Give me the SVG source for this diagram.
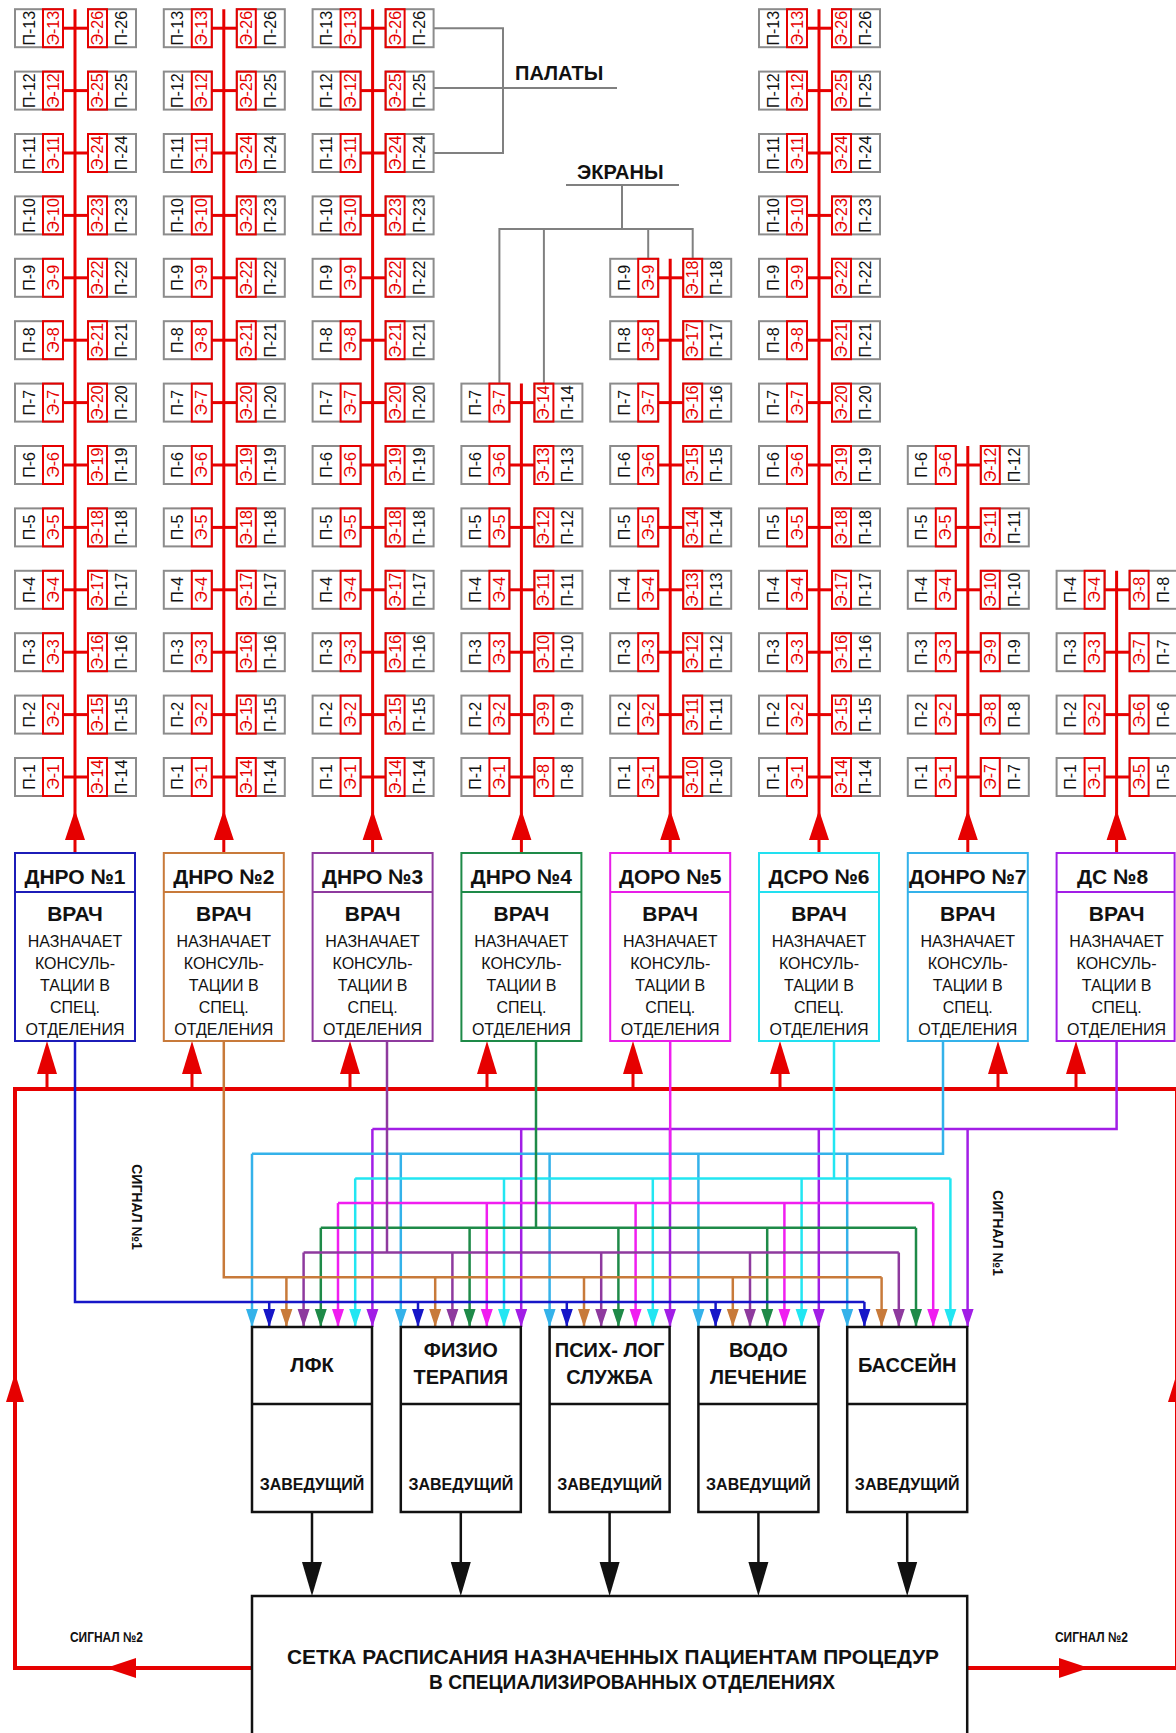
<svg xmlns="http://www.w3.org/2000/svg" width="1176" height="1733" viewBox="0 0 1176 1733">
<style>
text{font-family:"Liberation Sans",Arial,sans-serif}
.g{fill:#fff;stroke:#8c8c8c;stroke-width:2}
.r{fill:none;stroke:#e60000;stroke-width:2}
.rl{stroke:#e60000;stroke-width:3}
.p,.e{font-size:16px;text-anchor:middle;dominant-baseline:central}
.p{fill:#111}
.e{fill:#e60000}
.vl{stroke:#e60000;stroke-width:3}
.ra{fill:#e60000}
.bus{fill:none;stroke:#e60000;stroke-width:4}
.db{fill:#fff;stroke-width:2}
.dh{font-size:21px;font-weight:bold;text-anchor:middle;fill:#111}
.dv{font-size:21px;font-weight:bold;text-anchor:middle;fill:#111}
.dt{font-size:16px;text-anchor:middle;fill:#111}
.sb{fill:#fff;stroke:#111;stroke-width:2.5}
.sl{stroke:#111;stroke-width:2.5}
.sh{font-size:20px;font-weight:bold;text-anchor:middle;fill:#111}
.sz{font-size:16px;font-weight:bold;text-anchor:middle;fill:#111}
.cn{fill:none;stroke-width:2.5}
.gl{fill:none;stroke:#808080;stroke-width:2}
.lb{font-size:20px;font-weight:bold;fill:#111}
.sg{font-size:14px;font-weight:bold;fill:#111}
.bk{fill:#111}
</style>
<defs>
<g id="c"><rect class="g" x="-19" y="-60" width="38" height="48"/><rect class="g" x="-19" y="13" width="38" height="48"/><rect class="r" x="-19" y="-32" width="38" height="20"/><rect class="r" x="-19" y="13" width="38" height="19"/><line class="rl" x1="0" y1="-12" x2="0" y2="13"/></g>
<marker id="m0" markerUnits="userSpaceOnUse" markerWidth="20" markerHeight="14" refX="18" refY="7" orient="auto" viewBox="0 0 20 14"><path d="M0,1 L18,7 L0,13 z" fill="#34b2ea"/></marker>
<marker id="m1" markerUnits="userSpaceOnUse" markerWidth="20" markerHeight="14" refX="18" refY="7" orient="auto" viewBox="0 0 20 14"><path d="M0,1 L18,7 L0,13 z" fill="#1616c8"/></marker>
<marker id="m2" markerUnits="userSpaceOnUse" markerWidth="20" markerHeight="14" refX="18" refY="7" orient="auto" viewBox="0 0 20 14"><path d="M0,1 L18,7 L0,13 z" fill="#c87a3a"/></marker>
<marker id="m3" markerUnits="userSpaceOnUse" markerWidth="20" markerHeight="14" refX="18" refY="7" orient="auto" viewBox="0 0 20 14"><path d="M0,1 L18,7 L0,13 z" fill="#8e3a9e"/></marker>
<marker id="m4" markerUnits="userSpaceOnUse" markerWidth="20" markerHeight="14" refX="18" refY="7" orient="auto" viewBox="0 0 20 14"><path d="M0,1 L18,7 L0,13 z" fill="#1e8a48"/></marker>
<marker id="m5" markerUnits="userSpaceOnUse" markerWidth="20" markerHeight="14" refX="18" refY="7" orient="auto" viewBox="0 0 20 14"><path d="M0,1 L18,7 L0,13 z" fill="#f01ef0"/></marker>
<marker id="m6" markerUnits="userSpaceOnUse" markerWidth="20" markerHeight="14" refX="18" refY="7" orient="auto" viewBox="0 0 20 14"><path d="M0,1 L18,7 L0,13 z" fill="#22e6f2"/></marker>
<marker id="m7" markerUnits="userSpaceOnUse" markerWidth="20" markerHeight="14" refX="18" refY="7" orient="auto" viewBox="0 0 20 14"><path d="M0,1 L18,7 L0,13 z" fill="#a21ee6"/></marker>
</defs>
<rect width="1176" height="1733" fill="#fff"/>

<g id="connectors">
<polyline class="gl" points="433.6,28.2 503,28.2 503,153 433.6,153"/>
<polyline class="gl" points="433.6,88 617,88"/>
<polyline class="gl" points="566,185 679,185"/>
<polyline class="gl" points="622,185 622,229"/>
<polyline class="gl" points="499.4,383.6 499.4,229 692.7,229 692.7,258.8"/>
<line class="gl" x1="543.9" y1="229" x2="543.9" y2="383.6"/>
<line class="gl" x1="648.2" y1="229" x2="648.2" y2="258.8"/>
<polyline class="bus" points="252,1668 15,1668 15,1089 1176,1089"/>
<polyline class="bus" points="967,1668 1177,1668 1177,1089"/>
<g class="ra">
<polygon points="47,1041 37,1074 57,1074"/><line class="vl" x1="47" y1="1072" x2="47" y2="1089"/>
<polygon points="192,1041 182,1074 202,1074"/><line class="vl" x1="192" y1="1072" x2="192" y2="1089"/>
<polygon points="350,1041 340,1074 360,1074"/><line class="vl" x1="350" y1="1072" x2="350" y2="1089"/>
<polygon points="487,1041 477,1074 497,1074"/><line class="vl" x1="487" y1="1072" x2="487" y2="1089"/>
<polygon points="633,1041 623,1074 643,1074"/><line class="vl" x1="633" y1="1072" x2="633" y2="1089"/>
<polygon points="780,1041 770,1074 790,1074"/><line class="vl" x1="780" y1="1072" x2="780" y2="1089"/>
<polygon points="998,1041 988,1074 1008,1074"/><line class="vl" x1="998" y1="1072" x2="998" y2="1089"/>
<polygon points="1076,1041 1066,1074 1086,1074"/><line class="vl" x1="1076" y1="1072" x2="1076" y2="1089"/>
<polygon points="15,1373 6,1402 24,1402"/>
<polygon points="1177,1373 1168,1402 1186,1402"/>
<polygon points="106,1668 136,1658 136,1678"/>
<polygon points="1089,1668 1059,1658 1059,1678"/>
</g>
<g class="cn" stroke="#a21ee6">
<polyline points="1116.6,1041 1116.6,1129 372.4,1129"/>
<g marker-end="url(#m7)"><line x1="372.4" y1="1129" x2="372.4" y2="1327"/><line x1="521.2" y1="1129" x2="521.2" y2="1327"/><line x1="670" y1="1129" x2="670" y2="1327"/><line x1="818.8" y1="1129" x2="818.8" y2="1327"/><line x1="967.6" y1="1129" x2="967.6" y2="1327"/></g>
</g>
<g class="cn" stroke="#34b2ea">
<polyline points="943,1041 943,1153.7 252,1153.7"/>
<g marker-end="url(#m0)"><line x1="252" y1="1153.7" x2="252" y2="1327"/><line x1="400.8" y1="1153.7" x2="400.8" y2="1327"/><line x1="549.6" y1="1153.7" x2="549.6" y2="1327"/><line x1="698.4" y1="1153.7" x2="698.4" y2="1327"/><line x1="847.2" y1="1153.7" x2="847.2" y2="1327"/></g>
</g>
<g class="cn" stroke="#22e6f2">
<polyline points="834,1041 834,1178.4"/><polyline points="355.2,1178.4 950.4,1178.4"/>
<g marker-end="url(#m6)"><line x1="355.2" y1="1178.4" x2="355.2" y2="1327"/><line x1="504" y1="1178.4" x2="504" y2="1327"/><line x1="652.8" y1="1178.4" x2="652.8" y2="1327"/><line x1="801.6" y1="1178.4" x2="801.6" y2="1327"/><line x1="950.4" y1="1178.4" x2="950.4" y2="1327"/></g>
</g>
<g class="cn" stroke="#f01ef0">
<polyline points="670.2,1041 670.2,1203.1"/><polyline points="338,1203.1 933.2,1203.1"/>
<g marker-end="url(#m5)"><line x1="338" y1="1203.1" x2="338" y2="1327"/><line x1="486.8" y1="1203.1" x2="486.8" y2="1327"/><line x1="635.6" y1="1203.1" x2="635.6" y2="1327"/><line x1="784.4" y1="1203.1" x2="784.4" y2="1327"/><line x1="933.2" y1="1203.1" x2="933.2" y2="1327"/></g>
</g>
<g class="cn" stroke="#1e8a48">
<polyline points="536,1041 536,1227.8"/><polyline points="320.8,1227.8 916,1227.8"/>
<g marker-end="url(#m4)"><line x1="320.8" y1="1227.8" x2="320.8" y2="1327"/><line x1="469.6" y1="1227.8" x2="469.6" y2="1327"/><line x1="618.4" y1="1227.8" x2="618.4" y2="1327"/><line x1="767.2" y1="1227.8" x2="767.2" y2="1327"/><line x1="916" y1="1227.8" x2="916" y2="1327"/></g>
</g>
<g class="cn" stroke="#8e3a9e">
<polyline points="387,1041 387,1252.5"/><polyline points="303.6,1252.5 898.8,1252.5"/>
<g marker-end="url(#m3)"><line x1="303.6" y1="1252.5" x2="303.6" y2="1327"/><line x1="452.4" y1="1252.5" x2="452.4" y2="1327"/><line x1="601.2" y1="1252.5" x2="601.2" y2="1327"/><line x1="750" y1="1252.5" x2="750" y2="1327"/><line x1="898.8" y1="1252.5" x2="898.8" y2="1327"/></g>
</g>
<g class="cn" stroke="#c87a3a">
<polyline points="223.8,1041 223.8,1277.2 881.6,1277.2"/>
<g marker-end="url(#m2)"><line x1="286.4" y1="1277.2" x2="286.4" y2="1327"/><line x1="435.2" y1="1277.2" x2="435.2" y2="1327"/><line x1="584" y1="1277.2" x2="584" y2="1327"/><line x1="732.8" y1="1277.2" x2="732.8" y2="1327"/><line x1="881.6" y1="1277.2" x2="881.6" y2="1327"/></g>
</g>
<g class="cn" stroke="#1616c8">
<polyline points="75,1041 75,1301.9 864.4,1301.9"/>
<g marker-end="url(#m1)"><line x1="269.2" y1="1301.9" x2="269.2" y2="1327"/><line x1="418" y1="1301.9" x2="418" y2="1327"/><line x1="566.8" y1="1301.9" x2="566.8" y2="1327"/><line x1="715.6" y1="1301.9" x2="715.6" y2="1327"/><line x1="864.4" y1="1301.9" x2="864.4" y2="1327"/></g>
</g>
<g class="sl">
<line x1="312" y1="1512" x2="312" y2="1565"/><line x1="460.8" y1="1512" x2="460.8" y2="1565"/><line x1="609.6" y1="1512" x2="609.6" y2="1565"/><line x1="758.4" y1="1512" x2="758.4" y2="1565"/><line x1="907.2" y1="1512" x2="907.2" y2="1565"/>
</g>
<g class="bk">
<polygon points="312,1596 302,1562 322,1562"/><polygon points="460.8,1596 450.8,1562 470.8,1562"/><polygon points="609.6,1596 599.6,1562 619.6,1562"/><polygon points="758.4,1596 748.4,1562 768.4,1562"/><polygon points="907.2,1596 897.2,1562 917.2,1562"/>
</g>
</g>

<g id="labels">
<text class="lb" x="515" y="80">ПАЛАТЫ</text>
<text class="lb" x="577" y="179">ЭКРАНЫ</text>
<text class="sg" transform="translate(132,1207) rotate(90)" text-anchor="middle">СИГНАЛ №1</text>
<text class="sg" transform="translate(993,1233) rotate(90)" text-anchor="middle">СИГНАЛ №1</text>
<text class="sg" x="70" y="1642" textLength="73" lengthAdjust="spacingAndGlyphs">СИГНАЛ №2</text>
<text class="sg" x="1055" y="1642" textLength="73" lengthAdjust="spacingAndGlyphs">СИГНАЛ №2</text>
</g>

<g id="col1" transform="translate(75,0)">
<line class="vl" x1="0" y1="9.2" x2="0" y2="853"/><polygon class="ra" points="0,810 -10,840 10,840"/>
<g transform="translate(0,777)rotate(-90)"><use href="#c"/><text class="p" y="-46">П-1</text><text class="e" y="-22">Э-1</text><text class="e" y="22.5">Э-14</text><text class="p" y="46.5">П-14</text></g>
<g transform="translate(0,714.6)rotate(-90)"><use href="#c"/><text class="p" y="-46">П-2</text><text class="e" y="-22">Э-2</text><text class="e" y="22.5">Э-15</text><text class="p" y="46.5">П-15</text></g>
<g transform="translate(0,652.2)rotate(-90)"><use href="#c"/><text class="p" y="-46">П-3</text><text class="e" y="-22">Э-3</text><text class="e" y="22.5">Э-16</text><text class="p" y="46.5">П-16</text></g>
<g transform="translate(0,589.8)rotate(-90)"><use href="#c"/><text class="p" y="-46">П-4</text><text class="e" y="-22">Э-4</text><text class="e" y="22.5">Э-17</text><text class="p" y="46.5">П-17</text></g>
<g transform="translate(0,527.4)rotate(-90)"><use href="#c"/><text class="p" y="-46">П-5</text><text class="e" y="-22">Э-5</text><text class="e" y="22.5">Э-18</text><text class="p" y="46.5">П-18</text></g>
<g transform="translate(0,465)rotate(-90)"><use href="#c"/><text class="p" y="-46">П-6</text><text class="e" y="-22">Э-6</text><text class="e" y="22.5">Э-19</text><text class="p" y="46.5">П-19</text></g>
<g transform="translate(0,402.6)rotate(-90)"><use href="#c"/><text class="p" y="-46">П-7</text><text class="e" y="-22">Э-7</text><text class="e" y="22.5">Э-20</text><text class="p" y="46.5">П-20</text></g>
<g transform="translate(0,340.2)rotate(-90)"><use href="#c"/><text class="p" y="-46">П-8</text><text class="e" y="-22">Э-8</text><text class="e" y="22.5">Э-21</text><text class="p" y="46.5">П-21</text></g>
<g transform="translate(0,277.8)rotate(-90)"><use href="#c"/><text class="p" y="-46">П-9</text><text class="e" y="-22">Э-9</text><text class="e" y="22.5">Э-22</text><text class="p" y="46.5">П-22</text></g>
<g transform="translate(0,215.4)rotate(-90)"><use href="#c"/><text class="p" y="-46">П-10</text><text class="e" y="-22">Э-10</text><text class="e" y="22.5">Э-23</text><text class="p" y="46.5">П-23</text></g>
<g transform="translate(0,153)rotate(-90)"><use href="#c"/><text class="p" y="-46">П-11</text><text class="e" y="-22">Э-11</text><text class="e" y="22.5">Э-24</text><text class="p" y="46.5">П-24</text></g>
<g transform="translate(0,90.6)rotate(-90)"><use href="#c"/><text class="p" y="-46">П-12</text><text class="e" y="-22">Э-12</text><text class="e" y="22.5">Э-25</text><text class="p" y="46.5">П-25</text></g>
<g transform="translate(0,28.2)rotate(-90)"><use href="#c"/><text class="p" y="-46">П-13</text><text class="e" y="-22">Э-13</text><text class="e" y="22.5">Э-26</text><text class="p" y="46.5">П-26</text></g>
</g>

<g id="col2" transform="translate(223.8,0)">
<line class="vl" x1="0" y1="9.2" x2="0" y2="853"/><polygon class="ra" points="0,810 -10,840 10,840"/>
<g transform="translate(0,777)rotate(-90)"><use href="#c"/><text class="p" y="-46">П-1</text><text class="e" y="-22">Э-1</text><text class="e" y="22.5">Э-14</text><text class="p" y="46.5">П-14</text></g>
<g transform="translate(0,714.6)rotate(-90)"><use href="#c"/><text class="p" y="-46">П-2</text><text class="e" y="-22">Э-2</text><text class="e" y="22.5">Э-15</text><text class="p" y="46.5">П-15</text></g>
<g transform="translate(0,652.2)rotate(-90)"><use href="#c"/><text class="p" y="-46">П-3</text><text class="e" y="-22">Э-3</text><text class="e" y="22.5">Э-16</text><text class="p" y="46.5">П-16</text></g>
<g transform="translate(0,589.8)rotate(-90)"><use href="#c"/><text class="p" y="-46">П-4</text><text class="e" y="-22">Э-4</text><text class="e" y="22.5">Э-17</text><text class="p" y="46.5">П-17</text></g>
<g transform="translate(0,527.4)rotate(-90)"><use href="#c"/><text class="p" y="-46">П-5</text><text class="e" y="-22">Э-5</text><text class="e" y="22.5">Э-18</text><text class="p" y="46.5">П-18</text></g>
<g transform="translate(0,465)rotate(-90)"><use href="#c"/><text class="p" y="-46">П-6</text><text class="e" y="-22">Э-6</text><text class="e" y="22.5">Э-19</text><text class="p" y="46.5">П-19</text></g>
<g transform="translate(0,402.6)rotate(-90)"><use href="#c"/><text class="p" y="-46">П-7</text><text class="e" y="-22">Э-7</text><text class="e" y="22.5">Э-20</text><text class="p" y="46.5">П-20</text></g>
<g transform="translate(0,340.2)rotate(-90)"><use href="#c"/><text class="p" y="-46">П-8</text><text class="e" y="-22">Э-8</text><text class="e" y="22.5">Э-21</text><text class="p" y="46.5">П-21</text></g>
<g transform="translate(0,277.8)rotate(-90)"><use href="#c"/><text class="p" y="-46">П-9</text><text class="e" y="-22">Э-9</text><text class="e" y="22.5">Э-22</text><text class="p" y="46.5">П-22</text></g>
<g transform="translate(0,215.4)rotate(-90)"><use href="#c"/><text class="p" y="-46">П-10</text><text class="e" y="-22">Э-10</text><text class="e" y="22.5">Э-23</text><text class="p" y="46.5">П-23</text></g>
<g transform="translate(0,153)rotate(-90)"><use href="#c"/><text class="p" y="-46">П-11</text><text class="e" y="-22">Э-11</text><text class="e" y="22.5">Э-24</text><text class="p" y="46.5">П-24</text></g>
<g transform="translate(0,90.6)rotate(-90)"><use href="#c"/><text class="p" y="-46">П-12</text><text class="e" y="-22">Э-12</text><text class="e" y="22.5">Э-25</text><text class="p" y="46.5">П-25</text></g>
<g transform="translate(0,28.2)rotate(-90)"><use href="#c"/><text class="p" y="-46">П-13</text><text class="e" y="-22">Э-13</text><text class="e" y="22.5">Э-26</text><text class="p" y="46.5">П-26</text></g>
</g>

<g id="col3" transform="translate(372.6,0)">
<line class="vl" x1="0" y1="9.2" x2="0" y2="853"/><polygon class="ra" points="0,810 -10,840 10,840"/>
<g transform="translate(0,777)rotate(-90)"><use href="#c"/><text class="p" y="-46">П-1</text><text class="e" y="-22">Э-1</text><text class="e" y="22.5">Э-14</text><text class="p" y="46.5">П-14</text></g>
<g transform="translate(0,714.6)rotate(-90)"><use href="#c"/><text class="p" y="-46">П-2</text><text class="e" y="-22">Э-2</text><text class="e" y="22.5">Э-15</text><text class="p" y="46.5">П-15</text></g>
<g transform="translate(0,652.2)rotate(-90)"><use href="#c"/><text class="p" y="-46">П-3</text><text class="e" y="-22">Э-3</text><text class="e" y="22.5">Э-16</text><text class="p" y="46.5">П-16</text></g>
<g transform="translate(0,589.8)rotate(-90)"><use href="#c"/><text class="p" y="-46">П-4</text><text class="e" y="-22">Э-4</text><text class="e" y="22.5">Э-17</text><text class="p" y="46.5">П-17</text></g>
<g transform="translate(0,527.4)rotate(-90)"><use href="#c"/><text class="p" y="-46">П-5</text><text class="e" y="-22">Э-5</text><text class="e" y="22.5">Э-18</text><text class="p" y="46.5">П-18</text></g>
<g transform="translate(0,465)rotate(-90)"><use href="#c"/><text class="p" y="-46">П-6</text><text class="e" y="-22">Э-6</text><text class="e" y="22.5">Э-19</text><text class="p" y="46.5">П-19</text></g>
<g transform="translate(0,402.6)rotate(-90)"><use href="#c"/><text class="p" y="-46">П-7</text><text class="e" y="-22">Э-7</text><text class="e" y="22.5">Э-20</text><text class="p" y="46.5">П-20</text></g>
<g transform="translate(0,340.2)rotate(-90)"><use href="#c"/><text class="p" y="-46">П-8</text><text class="e" y="-22">Э-8</text><text class="e" y="22.5">Э-21</text><text class="p" y="46.5">П-21</text></g>
<g transform="translate(0,277.8)rotate(-90)"><use href="#c"/><text class="p" y="-46">П-9</text><text class="e" y="-22">Э-9</text><text class="e" y="22.5">Э-22</text><text class="p" y="46.5">П-22</text></g>
<g transform="translate(0,215.4)rotate(-90)"><use href="#c"/><text class="p" y="-46">П-10</text><text class="e" y="-22">Э-10</text><text class="e" y="22.5">Э-23</text><text class="p" y="46.5">П-23</text></g>
<g transform="translate(0,153)rotate(-90)"><use href="#c"/><text class="p" y="-46">П-11</text><text class="e" y="-22">Э-11</text><text class="e" y="22.5">Э-24</text><text class="p" y="46.5">П-24</text></g>
<g transform="translate(0,90.6)rotate(-90)"><use href="#c"/><text class="p" y="-46">П-12</text><text class="e" y="-22">Э-12</text><text class="e" y="22.5">Э-25</text><text class="p" y="46.5">П-25</text></g>
<g transform="translate(0,28.2)rotate(-90)"><use href="#c"/><text class="p" y="-46">П-13</text><text class="e" y="-22">Э-13</text><text class="e" y="22.5">Э-26</text><text class="p" y="46.5">П-26</text></g>
</g>

<g id="col4" transform="translate(521.4,0)">
<line class="vl" x1="0" y1="383.6" x2="0" y2="853"/><polygon class="ra" points="0,810 -10,840 10,840"/>
<g transform="translate(0,777)rotate(-90)"><use href="#c"/><text class="p" y="-46">П-1</text><text class="e" y="-22">Э-1</text><text class="e" y="22.5">Э-8</text><text class="p" y="46.5">П-8</text></g>
<g transform="translate(0,714.6)rotate(-90)"><use href="#c"/><text class="p" y="-46">П-2</text><text class="e" y="-22">Э-2</text><text class="e" y="22.5">Э-9</text><text class="p" y="46.5">П-9</text></g>
<g transform="translate(0,652.2)rotate(-90)"><use href="#c"/><text class="p" y="-46">П-3</text><text class="e" y="-22">Э-3</text><text class="e" y="22.5">Э-10</text><text class="p" y="46.5">П-10</text></g>
<g transform="translate(0,589.8)rotate(-90)"><use href="#c"/><text class="p" y="-46">П-4</text><text class="e" y="-22">Э-4</text><text class="e" y="22.5">Э-11</text><text class="p" y="46.5">П-11</text></g>
<g transform="translate(0,527.4)rotate(-90)"><use href="#c"/><text class="p" y="-46">П-5</text><text class="e" y="-22">Э-5</text><text class="e" y="22.5">Э-12</text><text class="p" y="46.5">П-12</text></g>
<g transform="translate(0,465)rotate(-90)"><use href="#c"/><text class="p" y="-46">П-6</text><text class="e" y="-22">Э-6</text><text class="e" y="22.5">Э-13</text><text class="p" y="46.5">П-13</text></g>
<g transform="translate(0,402.6)rotate(-90)"><use href="#c"/><text class="p" y="-46">П-7</text><text class="e" y="-22">Э-7</text><text class="e" y="22.5">Э-14</text><text class="p" y="46.5">П-14</text></g>
</g>

<g id="col5" transform="translate(670.2,0)">
<line class="vl" x1="0" y1="258.8" x2="0" y2="853"/><polygon class="ra" points="0,810 -10,840 10,840"/>
<g transform="translate(0,777)rotate(-90)"><use href="#c"/><text class="p" y="-46">П-1</text><text class="e" y="-22">Э-1</text><text class="e" y="22.5">Э-10</text><text class="p" y="46.5">П-10</text></g>
<g transform="translate(0,714.6)rotate(-90)"><use href="#c"/><text class="p" y="-46">П-2</text><text class="e" y="-22">Э-2</text><text class="e" y="22.5">Э-11</text><text class="p" y="46.5">П-11</text></g>
<g transform="translate(0,652.2)rotate(-90)"><use href="#c"/><text class="p" y="-46">П-3</text><text class="e" y="-22">Э-3</text><text class="e" y="22.5">Э-12</text><text class="p" y="46.5">П-12</text></g>
<g transform="translate(0,589.8)rotate(-90)"><use href="#c"/><text class="p" y="-46">П-4</text><text class="e" y="-22">Э-4</text><text class="e" y="22.5">Э-13</text><text class="p" y="46.5">П-13</text></g>
<g transform="translate(0,527.4)rotate(-90)"><use href="#c"/><text class="p" y="-46">П-5</text><text class="e" y="-22">Э-5</text><text class="e" y="22.5">Э-14</text><text class="p" y="46.5">П-14</text></g>
<g transform="translate(0,465)rotate(-90)"><use href="#c"/><text class="p" y="-46">П-6</text><text class="e" y="-22">Э-6</text><text class="e" y="22.5">Э-15</text><text class="p" y="46.5">П-15</text></g>
<g transform="translate(0,402.6)rotate(-90)"><use href="#c"/><text class="p" y="-46">П-7</text><text class="e" y="-22">Э-7</text><text class="e" y="22.5">Э-16</text><text class="p" y="46.5">П-16</text></g>
<g transform="translate(0,340.2)rotate(-90)"><use href="#c"/><text class="p" y="-46">П-8</text><text class="e" y="-22">Э-8</text><text class="e" y="22.5">Э-17</text><text class="p" y="46.5">П-17</text></g>
<g transform="translate(0,277.8)rotate(-90)"><use href="#c"/><text class="p" y="-46">П-9</text><text class="e" y="-22">Э-9</text><text class="e" y="22.5">Э-18</text><text class="p" y="46.5">П-18</text></g>
</g>

<g id="col6" transform="translate(819,0)">
<line class="vl" x1="0" y1="9.2" x2="0" y2="853"/><polygon class="ra" points="0,810 -10,840 10,840"/>
<g transform="translate(0,777)rotate(-90)"><use href="#c"/><text class="p" y="-46">П-1</text><text class="e" y="-22">Э-1</text><text class="e" y="22.5">Э-14</text><text class="p" y="46.5">П-14</text></g>
<g transform="translate(0,714.6)rotate(-90)"><use href="#c"/><text class="p" y="-46">П-2</text><text class="e" y="-22">Э-2</text><text class="e" y="22.5">Э-15</text><text class="p" y="46.5">П-15</text></g>
<g transform="translate(0,652.2)rotate(-90)"><use href="#c"/><text class="p" y="-46">П-3</text><text class="e" y="-22">Э-3</text><text class="e" y="22.5">Э-16</text><text class="p" y="46.5">П-16</text></g>
<g transform="translate(0,589.8)rotate(-90)"><use href="#c"/><text class="p" y="-46">П-4</text><text class="e" y="-22">Э-4</text><text class="e" y="22.5">Э-17</text><text class="p" y="46.5">П-17</text></g>
<g transform="translate(0,527.4)rotate(-90)"><use href="#c"/><text class="p" y="-46">П-5</text><text class="e" y="-22">Э-5</text><text class="e" y="22.5">Э-18</text><text class="p" y="46.5">П-18</text></g>
<g transform="translate(0,465)rotate(-90)"><use href="#c"/><text class="p" y="-46">П-6</text><text class="e" y="-22">Э-6</text><text class="e" y="22.5">Э-19</text><text class="p" y="46.5">П-19</text></g>
<g transform="translate(0,402.6)rotate(-90)"><use href="#c"/><text class="p" y="-46">П-7</text><text class="e" y="-22">Э-7</text><text class="e" y="22.5">Э-20</text><text class="p" y="46.5">П-20</text></g>
<g transform="translate(0,340.2)rotate(-90)"><use href="#c"/><text class="p" y="-46">П-8</text><text class="e" y="-22">Э-8</text><text class="e" y="22.5">Э-21</text><text class="p" y="46.5">П-21</text></g>
<g transform="translate(0,277.8)rotate(-90)"><use href="#c"/><text class="p" y="-46">П-9</text><text class="e" y="-22">Э-9</text><text class="e" y="22.5">Э-22</text><text class="p" y="46.5">П-22</text></g>
<g transform="translate(0,215.4)rotate(-90)"><use href="#c"/><text class="p" y="-46">П-10</text><text class="e" y="-22">Э-10</text><text class="e" y="22.5">Э-23</text><text class="p" y="46.5">П-23</text></g>
<g transform="translate(0,153)rotate(-90)"><use href="#c"/><text class="p" y="-46">П-11</text><text class="e" y="-22">Э-11</text><text class="e" y="22.5">Э-24</text><text class="p" y="46.5">П-24</text></g>
<g transform="translate(0,90.6)rotate(-90)"><use href="#c"/><text class="p" y="-46">П-12</text><text class="e" y="-22">Э-12</text><text class="e" y="22.5">Э-25</text><text class="p" y="46.5">П-25</text></g>
<g transform="translate(0,28.2)rotate(-90)"><use href="#c"/><text class="p" y="-46">П-13</text><text class="e" y="-22">Э-13</text><text class="e" y="22.5">Э-26</text><text class="p" y="46.5">П-26</text></g>
</g>

<g id="col7" transform="translate(967.8,0)">
<line class="vl" x1="0" y1="446" x2="0" y2="853"/><polygon class="ra" points="0,810 -10,840 10,840"/>
<g transform="translate(0,777)rotate(-90)"><use href="#c"/><text class="p" y="-46">П-1</text><text class="e" y="-22">Э-1</text><text class="e" y="22.5">Э-7</text><text class="p" y="46.5">П-7</text></g>
<g transform="translate(0,714.6)rotate(-90)"><use href="#c"/><text class="p" y="-46">П-2</text><text class="e" y="-22">Э-2</text><text class="e" y="22.5">Э-8</text><text class="p" y="46.5">П-8</text></g>
<g transform="translate(0,652.2)rotate(-90)"><use href="#c"/><text class="p" y="-46">П-3</text><text class="e" y="-22">Э-3</text><text class="e" y="22.5">Э-9</text><text class="p" y="46.5">П-9</text></g>
<g transform="translate(0,589.8)rotate(-90)"><use href="#c"/><text class="p" y="-46">П-4</text><text class="e" y="-22">Э-4</text><text class="e" y="22.5">Э-10</text><text class="p" y="46.5">П-10</text></g>
<g transform="translate(0,527.4)rotate(-90)"><use href="#c"/><text class="p" y="-46">П-5</text><text class="e" y="-22">Э-5</text><text class="e" y="22.5">Э-11</text><text class="p" y="46.5">П-11</text></g>
<g transform="translate(0,465)rotate(-90)"><use href="#c"/><text class="p" y="-46">П-6</text><text class="e" y="-22">Э-6</text><text class="e" y="22.5">Э-12</text><text class="p" y="46.5">П-12</text></g>
</g>

<g id="col8" transform="translate(1116.6,0)">
<line class="vl" x1="0" y1="570.8" x2="0" y2="853"/><polygon class="ra" points="0,810 -10,840 10,840"/>
<g transform="translate(0,777)rotate(-90)"><use href="#c"/><text class="p" y="-46">П-1</text><text class="e" y="-22">Э-1</text><text class="e" y="22.5">Э-5</text><text class="p" y="46.5">П-5</text></g>
<g transform="translate(0,714.6)rotate(-90)"><use href="#c"/><text class="p" y="-46">П-2</text><text class="e" y="-22">Э-2</text><text class="e" y="22.5">Э-6</text><text class="p" y="46.5">П-6</text></g>
<g transform="translate(0,652.2)rotate(-90)"><use href="#c"/><text class="p" y="-46">П-3</text><text class="e" y="-22">Э-3</text><text class="e" y="22.5">Э-7</text><text class="p" y="46.5">П-7</text></g>
<g transform="translate(0,589.8)rotate(-90)"><use href="#c"/><text class="p" y="-46">П-4</text><text class="e" y="-22">Э-4</text><text class="e" y="22.5">Э-8</text><text class="p" y="46.5">П-8</text></g>
</g>

<g id="dept1" transform="translate(15,0)"><rect class="db" x="0" y="853" width="120" height="188" stroke="#1c1cb8"/><line x1="0" y1="892" x2="120" y2="892" stroke="#1c1cb8" stroke-width="2"/><text class="dh" x="60" y="884">ДНРО №1</text><text class="dv" x="60" y="921">ВРАЧ</text><text class="dt" x="60" y="947">НАЗНАЧАЕТ</text><text class="dt" x="60" y="969">КОНСУЛЬ-</text><text class="dt" x="60" y="991">ТАЦИИ В</text><text class="dt" x="60" y="1013">СПЕЦ.</text><text class="dt" x="60" y="1035">ОТДЕЛЕНИЯ</text></g>
<g id="dept2" transform="translate(163.8,0)"><rect class="db" x="0" y="853" width="120" height="188" stroke="#c87a3a"/><line x1="0" y1="892" x2="120" y2="892" stroke="#c87a3a" stroke-width="2"/><text class="dh" x="60" y="884">ДНРО №2</text><text class="dv" x="60" y="921">ВРАЧ</text><text class="dt" x="60" y="947">НАЗНАЧАЕТ</text><text class="dt" x="60" y="969">КОНСУЛЬ-</text><text class="dt" x="60" y="991">ТАЦИИ В</text><text class="dt" x="60" y="1013">СПЕЦ.</text><text class="dt" x="60" y="1035">ОТДЕЛЕНИЯ</text></g>
<g id="dept3" transform="translate(312.6,0)"><rect class="db" x="0" y="853" width="120" height="188" stroke="#8e3a9e"/><line x1="0" y1="892" x2="120" y2="892" stroke="#8e3a9e" stroke-width="2"/><text class="dh" x="60" y="884">ДНРО №3</text><text class="dv" x="60" y="921">ВРАЧ</text><text class="dt" x="60" y="947">НАЗНАЧАЕТ</text><text class="dt" x="60" y="969">КОНСУЛЬ-</text><text class="dt" x="60" y="991">ТАЦИИ В</text><text class="dt" x="60" y="1013">СПЕЦ.</text><text class="dt" x="60" y="1035">ОТДЕЛЕНИЯ</text></g>
<g id="dept4" transform="translate(461.4,0)"><rect class="db" x="0" y="853" width="120" height="188" stroke="#1e8a48"/><line x1="0" y1="892" x2="120" y2="892" stroke="#1e8a48" stroke-width="2"/><text class="dh" x="60" y="884">ДНРО №4</text><text class="dv" x="60" y="921">ВРАЧ</text><text class="dt" x="60" y="947">НАЗНАЧАЕТ</text><text class="dt" x="60" y="969">КОНСУЛЬ-</text><text class="dt" x="60" y="991">ТАЦИИ В</text><text class="dt" x="60" y="1013">СПЕЦ.</text><text class="dt" x="60" y="1035">ОТДЕЛЕНИЯ</text></g>
<g id="dept5" transform="translate(610.2,0)"><rect class="db" x="0" y="853" width="120" height="188" stroke="#e81ee8"/><line x1="0" y1="892" x2="120" y2="892" stroke="#e81ee8" stroke-width="2"/><text class="dh" x="60" y="884">ДОРО №5</text><text class="dv" x="60" y="921">ВРАЧ</text><text class="dt" x="60" y="947">НАЗНАЧАЕТ</text><text class="dt" x="60" y="969">КОНСУЛЬ-</text><text class="dt" x="60" y="991">ТАЦИИ В</text><text class="dt" x="60" y="1013">СПЕЦ.</text><text class="dt" x="60" y="1035">ОТДЕЛЕНИЯ</text></g>
<g id="dept6" transform="translate(759,0)"><rect class="db" x="0" y="853" width="120" height="188" stroke="#22e0f0"/><line x1="0" y1="892" x2="120" y2="892" stroke="#22e0f0" stroke-width="2"/><text class="dh" x="60" y="884">ДСРО №6</text><text class="dv" x="60" y="921">ВРАЧ</text><text class="dt" x="60" y="947">НАЗНАЧАЕТ</text><text class="dt" x="60" y="969">КОНСУЛЬ-</text><text class="dt" x="60" y="991">ТАЦИИ В</text><text class="dt" x="60" y="1013">СПЕЦ.</text><text class="dt" x="60" y="1035">ОТДЕЛЕНИЯ</text></g>
<g id="dept7" transform="translate(907.8,0)"><rect class="db" x="0" y="853" width="120" height="188" stroke="#34b2ea"/><line x1="0" y1="892" x2="120" y2="892" stroke="#34b2ea" stroke-width="2"/><text class="dh" x="60" y="884">ДОНРО №7</text><text class="dv" x="60" y="921">ВРАЧ</text><text class="dt" x="60" y="947">НАЗНАЧАЕТ</text><text class="dt" x="60" y="969">КОНСУЛЬ-</text><text class="dt" x="60" y="991">ТАЦИИ В</text><text class="dt" x="60" y="1013">СПЕЦ.</text><text class="dt" x="60" y="1035">ОТДЕЛЕНИЯ</text></g>
<g id="dept8" transform="translate(1056.6,0)"><rect class="db" x="0" y="853" width="118" height="188" stroke="#a21ee6"/><line x1="0" y1="892" x2="118" y2="892" stroke="#a21ee6" stroke-width="2"/><text class="dh" x="56" y="884">ДС №8</text><text class="dv" x="60" y="921">ВРАЧ</text><text class="dt" x="60" y="947">НАЗНАЧАЕТ</text><text class="dt" x="60" y="969">КОНСУЛЬ-</text><text class="dt" x="60" y="991">ТАЦИИ В</text><text class="dt" x="60" y="1013">СПЕЦ.</text><text class="dt" x="60" y="1035">ОТДЕЛЕНИЯ</text></g>

<g id="svc1"><rect class="sb" x="252" y="1327" width="120" height="185"/><line class="sl" x1="252" y1="1404" x2="372" y2="1404"/><text class="sh" x="312" y="1372">ЛФК</text><text class="sz" x="312" y="1490">ЗАВЕДУЩИЙ</text></g>
<g id="svc2"><rect class="sb" x="400.8" y="1327" width="120" height="185"/><line class="sl" x1="400.8" y1="1404" x2="520.8" y2="1404"/><text class="sh" x="460.8" y="1357">ФИЗИО</text><text class="sh" x="460.8" y="1384">ТЕРАПИЯ</text><text class="sz" x="460.8" y="1490">ЗАВЕДУЩИЙ</text></g>
<g id="svc3"><rect class="sb" x="549.6" y="1327" width="120" height="185"/><line class="sl" x1="549.6" y1="1404" x2="669.6" y2="1404"/><text class="sh" x="609.6" y="1357">ПСИХ- ЛОГ</text><text class="sh" x="609.6" y="1384">СЛУЖБА</text><text class="sz" x="609.6" y="1490">ЗАВЕДУЩИЙ</text></g>
<g id="svc4"><rect class="sb" x="698.4" y="1327" width="120" height="185"/><line class="sl" x1="698.4" y1="1404" x2="818.4" y2="1404"/><text class="sh" x="758.4" y="1357">ВОДО</text><text class="sh" x="758.4" y="1384">ЛЕЧЕНИЕ</text><text class="sz" x="758.4" y="1490">ЗАВЕДУЩИЙ</text></g>
<g id="svc5"><rect class="sb" x="847.2" y="1327" width="120" height="185"/><line class="sl" x1="847.2" y1="1404" x2="967.2" y2="1404"/><text class="sh" x="907.2" y="1372">БАССЕЙН</text><text class="sz" x="907.2" y="1490">ЗАВЕДУЩИЙ</text></g>

<g id="schedule"><rect class="sb" x="252" y="1596" width="715.2" height="160"/><text class="sh" x="613" y="1664" style="font-size:21px" textLength="652" lengthAdjust="spacingAndGlyphs">СЕТКА РАСПИСАНИЯ НАЗНАЧЕННЫХ ПАЦИЕНТАМ ПРОЦЕДУР</text><text class="sh" x="632" y="1689" textLength="406" lengthAdjust="spacingAndGlyphs">В СПЕЦИАЛИЗИРОВАННЫХ ОТДЕЛЕНИЯХ</text></g>
</svg>
